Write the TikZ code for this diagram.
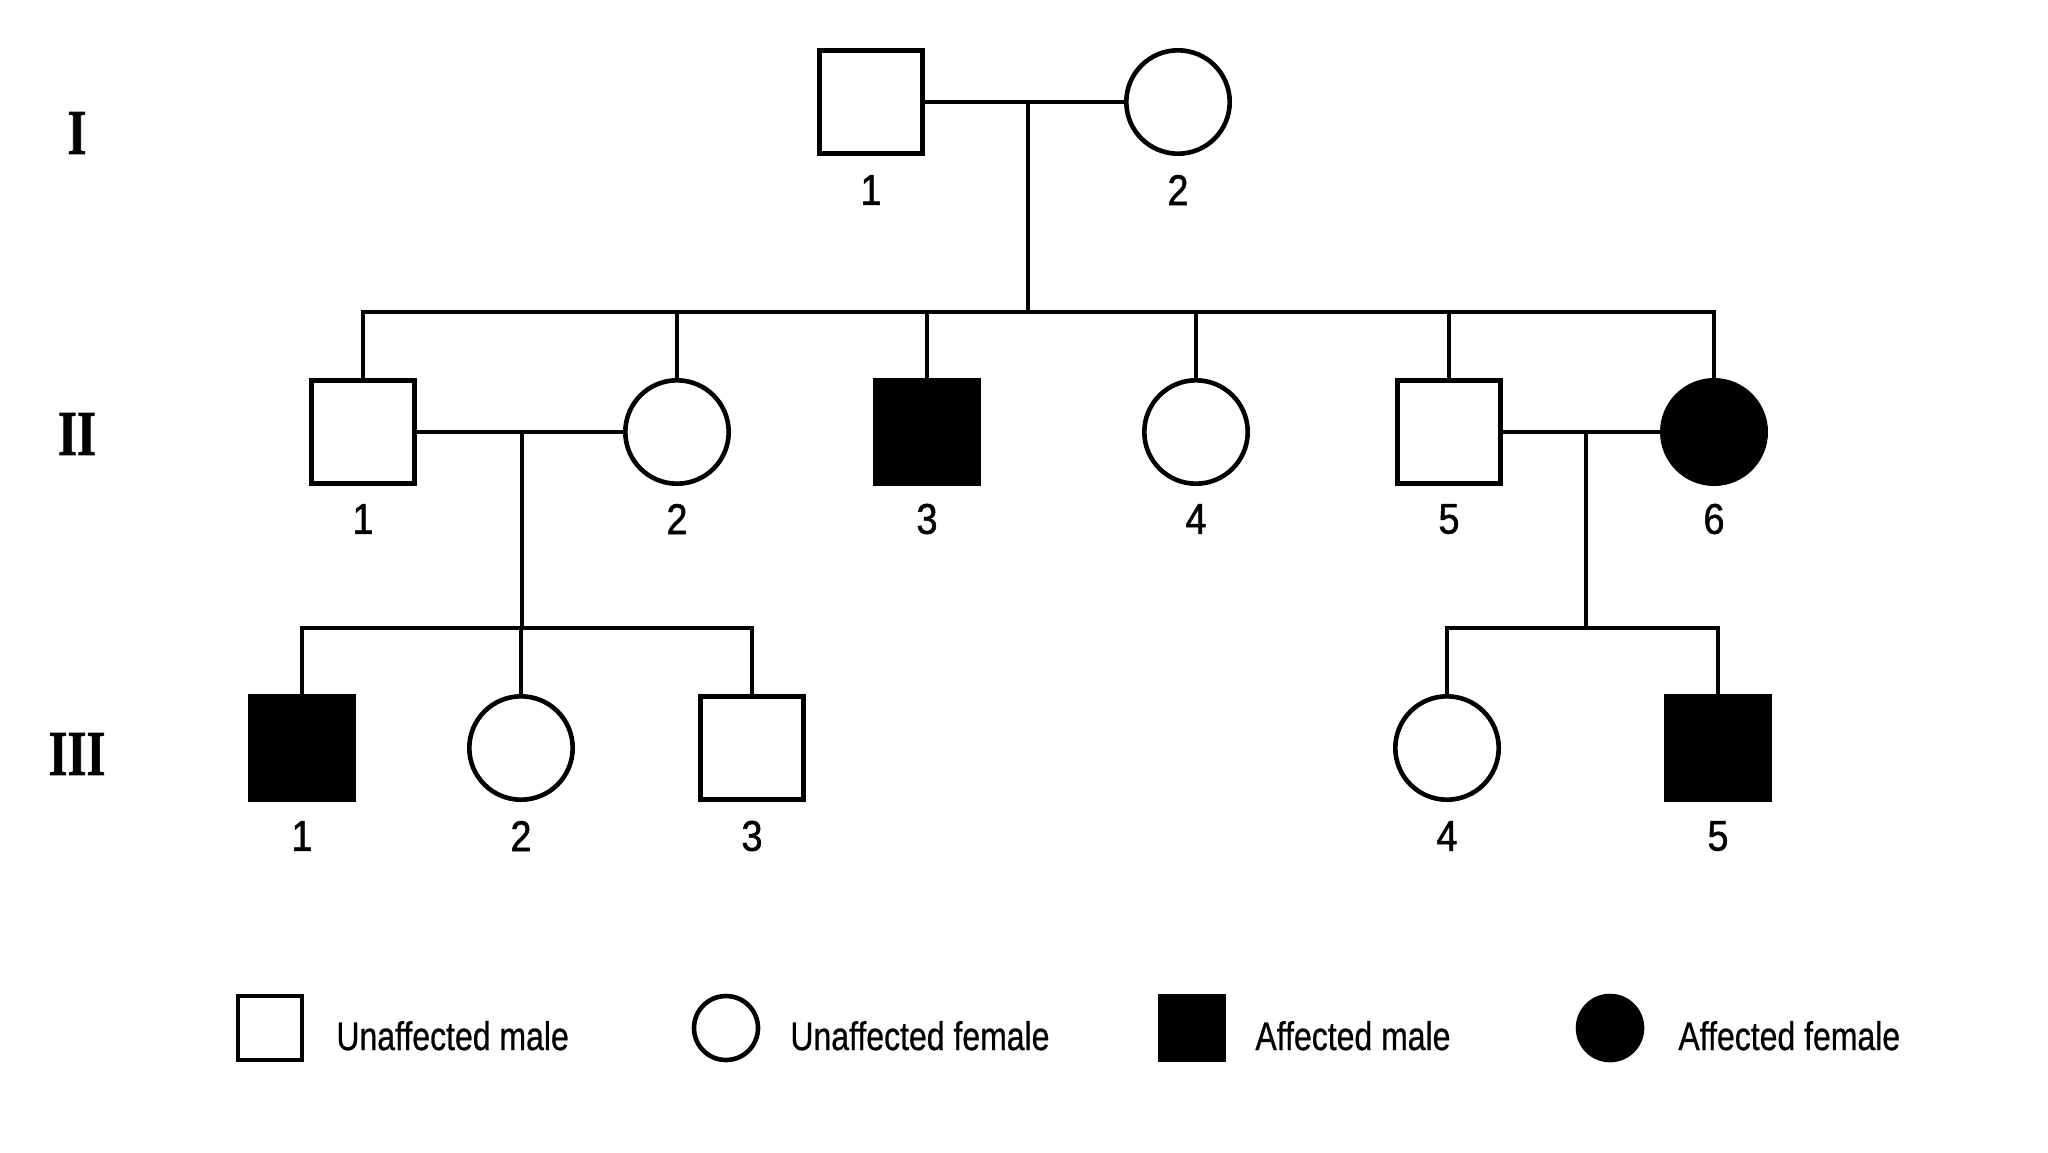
\documentclass[tikz,border=0pt]{standalone}
\usepackage{fontspec}
\newfontfamily\numfont[FakeStretch=0.88,FakeBold=1.2]{Liberation Sans}
\newfontfamily\legfont[FakeStretch=0.8,FakeBold=0.6]{Liberation Sans}
\newfontfamily\genfont[FakeStretch=0.76,FakeBold=1]{Liberation Serif}
\begin{document}
\begin{tikzpicture}[x=0.5pt,y=-0.5pt,
  male/.style={draw, line width=2.3pt, rectangle, minimum size=51.7pt, inner sep=0pt, fill=white},
  female/.style={draw, line width=2.3pt, circle, minimum size=51.7pt, inner sep=0pt, fill=white},
  aff/.style={fill=black},
  lsym/.style={minimum size=32pt},
  num/.style={font=\numfont\fontsize{21.5pt}{24pt}\selectfont, inner sep=0pt},
  gen/.style={font=\genfont\bfseries\fontsize{32pt}{36pt}\selectfont, inner sep=0pt},
  legtext/.style={font=\legfont\fontsize{20pt}{24pt}\selectfont, inner sep=0pt, anchor=base west},
  conn/.style={line width=1.6pt}]
\fill[white] (0,0) rectangle (2048,1152);
\useasboundingbox (0,0) rectangle (2048,1152);

% generation labels
\node[gen] (gI) at (77,133) {I};
\node[gen] (gII) at (77,434) {II};
\node[gen] (gIII) at (77,754) {III};

% generation I
\node[male] (I1) at (871,102) {};
\node[female] (I2) at (1178,102) {};
\node[num] (nI1) at (871,190) {1};
\node[num] (nI2) at (1178,190) {2};

% generation II
\node[male] (II1) at (363,432) {};
\node[female] (II2) at (677,432) {};
\node[male,aff] (II3) at (927,432) {};
\node[female] (II4) at (1196,432) {};
\node[male] (II5) at (1449,432) {};
\node[female,aff] (II6) at (1714,432) {};
\node[num] (nII1) at (363,519) {1};
\node[num] (nII2) at (677,519) {2};
\node[num] (nII3) at (927,519) {3};
\node[num] (nII4) at (1196,519) {4};
\node[num] (nII5) at (1449,519) {5};
\node[num] (nII6) at (1714,519) {6};

% generation III
\node[male,aff] (III1) at (302,748) {};
\node[female] (III2) at (521,748) {};
\node[male] (III3) at (752,748) {};
\node[female] (III4) at (1447,748) {};
\node[male,aff] (III5) at (1718,748) {};
\node[num] (nIII1) at (302,836) {1};
\node[num] (nIII2) at (521,836) {2};
\node[num] (nIII3) at (752,836) {3};
\node[num] (nIII4) at (1447,836) {4};
\node[num] (nIII5) at (1718,836) {5};

% connectors generation I -> II
\coordinate (mI) at (1028,102);
\coordinate (sI) at (1028,312);
\draw[conn] (I1) -- (I2);
\draw[conn] (mI) -- (sI);
\draw[conn] (II1.north) |- (sI);
\draw[conn] (II6.north) |- (sI);
\draw[conn] (II2.north) -- (II2.north |- sI);
\draw[conn] (II3.north) -- (II3.north |- sI);
\draw[conn] (II4.north) -- (II4.north |- sI);
\draw[conn] (II5.north) -- (II5.north |- sI);

% connectors II-1 x II-2
\coordinate (mII) at (522,432);
\coordinate (sII) at (522,628);
\draw[conn] (II1) -- (II2);
\draw[conn] (mII) -- (sII);
\draw[conn] (III1.north) |- (sII);
\draw[conn] (III3.north) |- (sII);
\draw[conn] (III2.north) -- (III2.north |- sII);

% connectors II-5 x II-6
\coordinate (mIII) at (1586,432);
\coordinate (sIII) at (1586,628);
\draw[conn] (II5) -- (II6);
\draw[conn] (mIII) -- (sIII);
\draw[conn] (III4.north) |- (sIII);
\draw[conn] (III5.north) |- (sIII);

% legend
\node[male,lsym] (L1) at (270,1028) {};
\node[legtext] (T1) at (336,1050) {Unaffected male};
\node[female,lsym] (L2) at (726,1028) {};
\node[legtext] (T2) at (790,1050) {Unaffected female};
\node[male,aff,lsym] (L3) at (1192,1028) {};
\node[legtext] (T3) at (1255,1050) {Affected male};
\node[female,aff,lsym] (L4) at (1610,1028) {};
\node[legtext] (T4) at (1678,1050) {Affected female};
\end{tikzpicture}
\end{document}
